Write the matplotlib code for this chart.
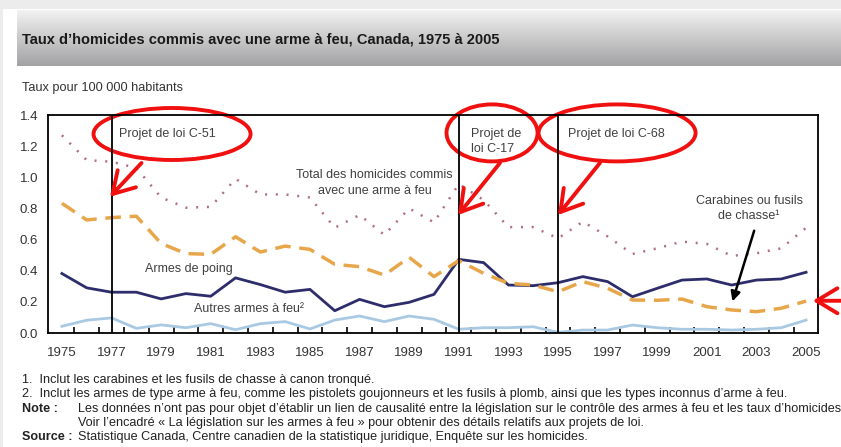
import numpy as np
import matplotlib
matplotlib.use("Agg")
import matplotlib.pyplot as plt
from matplotlib.patches import Ellipse, Rectangle

plt.rcParams['font.family'] = ['Liberation Sans', 'DejaVu Sans']

years = list(range(1975, 2006))
total = [1.27, 1.11, 1.10, 1.06, 0.87, 0.805, 0.81, 0.99, 0.89, 0.89,
         0.87, 0.676, 0.758, 0.63, 0.80, 0.71, 0.957, 0.854, 0.68, 0.68,
         0.608, 0.715, 0.62, 0.507, 0.544, 0.587, 0.572, 0.495, 0.512, 0.544,
         0.676]
rifles = [0.833, 0.726, 0.741, 0.75, 0.575, 0.51, 0.505, 0.618, 0.52, 0.558,
          0.537, 0.441, 0.426, 0.372, 0.486, 0.362, 0.465, 0.383, 0.319, 0.308,
          0.265, 0.33, 0.287, 0.212, 0.21, 0.218, 0.169, 0.148, 0.137, 0.159,
          0.205]
handguns = [0.382, 0.29, 0.262, 0.262, 0.219, 0.253, 0.236, 0.354, 0.311, 0.262,
            0.28, 0.143, 0.216, 0.169, 0.197, 0.248, 0.473, 0.452, 0.308, 0.304,
            0.323, 0.362, 0.33, 0.233, 0.287, 0.34, 0.347, 0.308, 0.34, 0.347,
            0.39]
other = [0.043, 0.082, 0.097, 0.03, 0.052, 0.034, 0.06, 0.021, 0.06, 0.073,
         0.026, 0.083, 0.109, 0.073, 0.109, 0.088, 0.024, 0.034, 0.034, 0.04,
         0.004, 0.019, 0.019, 0.051, 0.034, 0.024, 0.024, 0.019, 0.024, 0.034,
         0.083]

bill_years = [1977, 1991, 1995]

fig = plt.figure(figsize=(8.41, 4.47), dpi=100)
fig.patch.set_facecolor('white')

# light frame around the page
fig.patches.append(Rectangle((0, 1 - 9 / 447), 1, 9 / 447, transform=fig.transFigure,
                             facecolor='#ececec', edgecolor='none', zorder=0))
fig.patches.append(Rectangle((0, 0), 3 / 841, 1, transform=fig.transFigure,
                             facecolor='#ececec', edgecolor='none', zorder=0))

# title band with grey gradient
band = fig.add_axes([17 / 841, 1 - 66 / 447, 824 / 841, 56 / 447])
grad = np.linspace(0, 1, 100).reshape(-1, 1)
band.imshow(grad, aspect='auto', cmap=matplotlib.colors.LinearSegmentedColormap.from_list(
    'g', ['#f2f2f2', '#a2a2a4']), extent=[0, 1, 0, 1])
band.axis('off')
fig.text(22 / 841, 1 - 40 / 447,
         "Taux d’homicides commis avec une arme à feu, Canada, 1975 à 2005",
         fontsize=10.5, fontweight='bold', color='#1a1a1a', va='center')

fig.text(22 / 841, 1 - 88 / 447, "Taux pour 100 000 habitants",
         fontsize=9.2, color='#333333', va='center')

ax = fig.add_axes([48 / 841, 1 - 333 / 447, 770 / 841, 218 / 447])
ax.plot(years, other, color='#a9c9e3', lw=2)
ax.plot(years, handguns, color='#2d2d6b', lw=2)
ax.plot(years, rifles, color='#e8a64a', lw=2.5, linestyle=(0, (4.5, 2.5)))
ax.plot(years, total, color='#b07080', lw=1.8, linestyle=(0, (0.8, 3.5)))

for yr in bill_years:
    ax.axvline(yr, color='black', lw=1.3)

ax.set_xlim(1974.44, 2005.48)
ax.set_ylim(0, 1.4)
ax.set_yticks(np.arange(0, 1.41, 0.2))
ax.set_yticklabels([f"{v:.1f}" for v in np.arange(0, 1.41, 0.2)])
ax.set_xticks(years[::2])
ax.set_xticks([y + 0.5 for y in years[:-1]], minor=True)
ax.tick_params(axis='x', which='major', length=0, pad=10, labelsize=9.5, labelcolor='#333333')
ax.tick_params(axis='x', which='minor', length=4, direction='in', width=1.2)
ax.tick_params(axis='y', length=0, pad=7, labelsize=9.5, labelcolor='#333333')
for s in ax.spines.values():
    s.set_linewidth(1.3)

txt = '#404040'
fs_lab = 9
ax.text(1987.6, 0.963, "Total des homicides commis\navec une arme à feu",
        ha='center', va='center', fontsize=fs_lab, color=txt, linespacing=1.35)
ax.text(1980.1, 0.41, "Armes de poing", ha='center', va='center', fontsize=fs_lab, color=txt)
ax.text(1982.55, 0.152, "Autres armes à feu²", ha='center', va='center', fontsize=fs_lab, color=txt)
ax.text(2002.7, 0.80, "Carabines ou fusils\nde chasse¹", ha='center', va='center',
        fontsize=fs_lab, color=txt, linespacing=1.35)
ax.text(1977.3, 1.28, "Projet de loi C-51", ha='left', va='center', fontsize=fs_lab, color=txt)
ax.text(1991.5, 1.23, "Projet de\nloi C-17", ha='left', va='center', fontsize=fs_lab,
        color=txt, linespacing=1.35)
ax.text(1995.4, 1.28, "Projet de loi C-68", ha='left', va='center', fontsize=fs_lab, color=txt)

ax.annotate("", xy=(2002.0, 0.186), xytext=(2002.94, 0.674),
            arrowprops=dict(arrowstyle='-|>', color='black', lw=1.8,
                            mutation_scale=14))

# red hand-drawn style highlights
red = '#f01010'
ellipses = [((1979.44, 1.278), 6.33, 0.334), ((1992.34, 1.285), 3.67, 0.366),
            ((1997.38, 1.285), 6.33, 0.366)]
for c, w, h in ellipses:
    ax.add_patch(Ellipse(c, w, h, fill=False, edgecolor=red, lw=2.8, clip_on=False))
arrows = [((1976.94, 0.875), (1978.21, 1.092)), ((1990.97, 0.758), (1992.66, 1.092)),
          ((1995.0, 0.758), (1996.69, 1.092)), ((2005.27, 0.207), (2006.5, 0.207))]
for tip, tail in arrows:
    ax.annotate("", xy=tip, xytext=tail, annotation_clip=False,
                arrowprops=dict(arrowstyle='->,head_length=1.0,head_width=0.6',
                                color=red, lw=2.8, mutation_scale=15,
                                shrinkA=0, shrinkB=0))

# footnotes
fs = 9.1
fc = '#222222'
fig.text(22 / 841, 1 - 380 / 447, "1.  Inclut les carabines et les fusils de chasse à canon tronqué.",
         fontsize=fs, color=fc, va='center')
fig.text(22 / 841, 1 - 394 / 447,
         "2.  Inclut les armes de type arme à feu, comme les pistolets goujonneurs et les fusils à plomb, "
         "ainsi que les types inconnus d’arme à feu.", fontsize=fs, color=fc, va='center')
fig.text(22 / 841, 1 - 409 / 447, "Note :", fontsize=fs, color=fc, va='center', fontweight='bold')
fig.text(78 / 841, 1 - 409 / 447,
         "Les données n’ont pas pour objet d’établir un lien de causalité entre la législation sur le "
         "contrôle des armes à feu et les taux d’homicides.", fontsize=fs, color=fc, va='center')
fig.text(78 / 841, 1 - 423 / 447,
         "Voir l’encadré « La législation sur les armes à feu » pour obtenir des détails relatifs aux projets de loi.",
         fontsize=fs, color=fc, va='center')
fig.text(22 / 841, 1 - 437 / 447, "Source :", fontsize=fs, color=fc, va='center', fontweight='bold')
fig.text(78 / 841, 1 - 437 / 447,
         "Statistique Canada, Centre canadien de la statistique juridique, Enquête sur les homicides.",
         fontsize=fs, color=fc, va='center')

fig.savefig("out.png", dpi=100)
